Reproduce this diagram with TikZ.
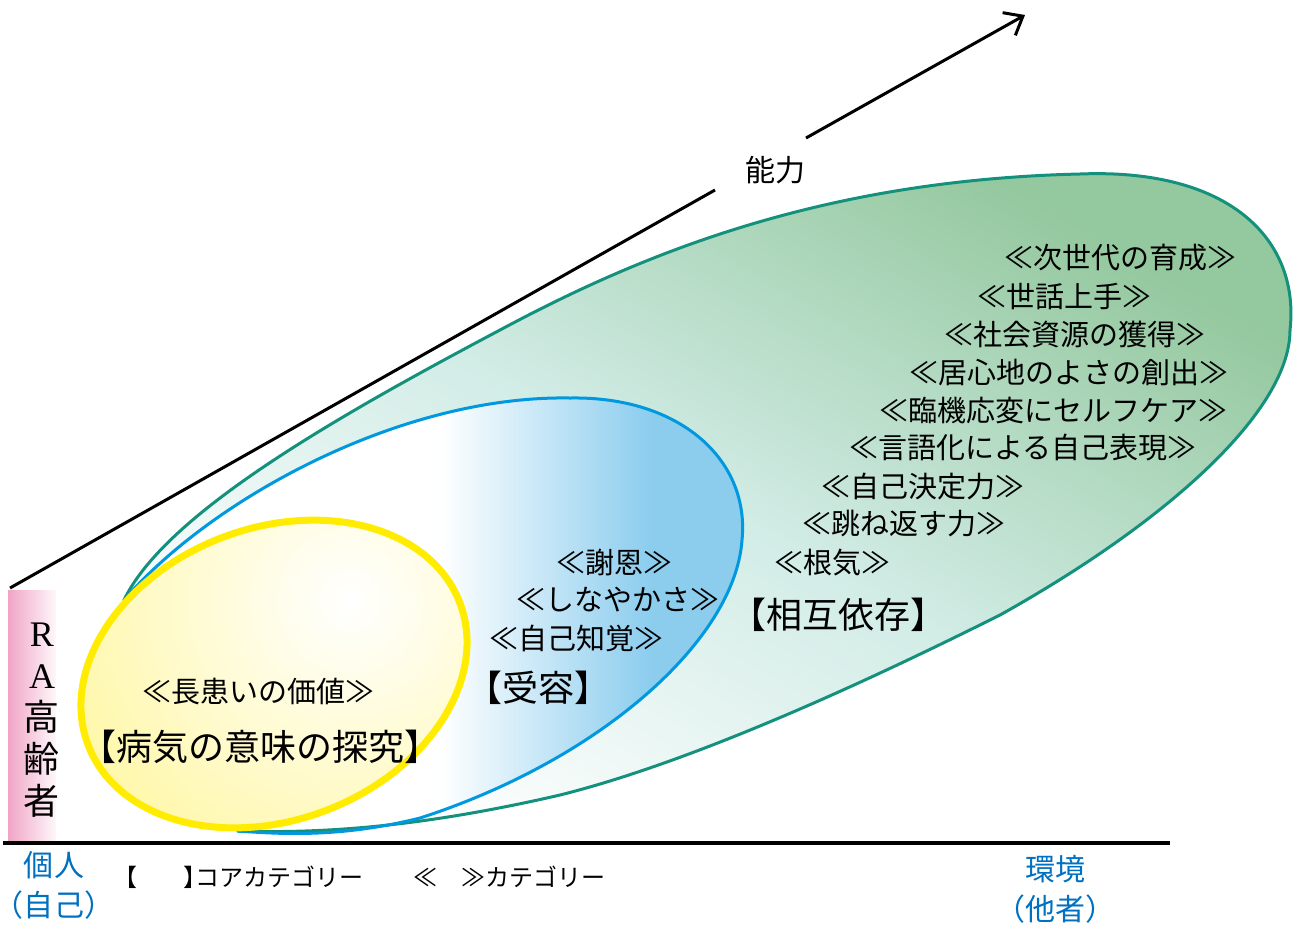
\documentclass[tikz,border=0pt]{standalone}
\usepackage{fontspec}
\newfontfamily\jp{Noto Sans CJK JP}
\newfontfamily\jphalt[RawFeature=+halt]{Noto Sans CJK JP}
\newfontfamily\lat{Liberation Serif}
\usetikzlibrary{arrows.meta}
\definecolor{yedge}{RGB}{255,236,0}
\definecolor{yfill}{RGB}{255,247,165}
\definecolor{bedge}{RGB}{0,152,222}
\definecolor{bfill}{RGB}{140,205,238}
\definecolor{gedge}{RGB}{20,145,125}
\definecolor{gfill}{RGB}{148,200,158}
\definecolor{gmid}{RGB}{210,236,230}
\definecolor{labblue}{RGB}{0,112,192}
\definecolor{rapink}{RGB}{240,165,198}
\newcommand\GreenShape{(124,600) .. controls (165,515) and (330,420) .. (500,330)
  .. controls (640,255) and (820,180) .. (1080,174)
  .. controls (1230,168) and (1300,240) .. (1290,330)
  .. controls (1290,410) and (1170,520) .. (1000,615)
  .. controls (880,675) and (700,760) .. (560,795)
  .. controls (430,825) and (330,834) .. (238,831)
  -- (260,700) -- cycle}
\newcommand\BlueShape{(124,600) .. controls (210,500) and (400,395) .. (570,398)
  .. controls (680,396) and (750,460) .. (742,540)
  .. controls (735,640) and (600,760) .. (420,818)
  .. controls (340,838) and (280,834) .. (238,831)
  -- (260,700) -- cycle}
\newcommand\YellowShape{(274,674) ellipse [x radius=199, y radius=146, rotate=21]}
\begin{document}
\begin{tikzpicture}[x=0.5pt,y=-0.5pt,
  cat/.style={font=\jp\fontsize{14.5}{16}\selectfont, anchor=west, inner sep=0pt},
  core/.style={font=\jp\fontsize{18}{20}\selectfont, inner sep=0pt},
  endlab/.style={font=\jphalt\fontsize{15}{20}\selectfont, text=labblue, align=center, inner sep=0pt},
  legend/.style={font=\jphalt\fontsize{12}{14}\selectfont, anchor=west, inner sep=0pt},
  axisline/.style={line width=1.5pt, black},
  edgeline/.style={line width=1.5pt, line join=round}]
\useasboundingbox (0,0) rectangle (1299,927);
% pink bar
\shade[left color=rapink, right color=rapink!8!white] (8,590) rectangle (56,840);
% green region
\shade[top color=gfill, bottom color=white, middle color=gmid, shading angle=-30] \GreenShape;
% blue region
\begin{scope}
  \clip \BlueShape;
  \fill[white] (100,380) rectangle (780,850);
  \shade[left color=white, right color=bfill] (440,380) rectangle (650,850);
  \fill[bfill] (650,380) rectangle (780,850);
\end{scope}
\draw[edgeline, gedge] \GreenShape;
\draw[edgeline, bedge] \BlueShape;
% yellow region
\begin{scope}
  \clip \YellowShape;
  \fill[yfill] (60,500) rectangle (500,850);
  \shade[inner color=white, outer color=yfill] (350,600) circle (320);
\end{scope}
\draw[line width=3.5pt, yedge] \YellowShape;
% axes
\coordinate (o) at (10,588);
\coordinate (gapA) at (715,190);
\coordinate (gapB) at (806,138);
\coordinate (tip) at (1025,15);
\coordinate (b0) at (3,843);
\coordinate (b1) at (1170,843);
\draw[axisline] (o) -- (gapA);
\draw[axisline, -{Straight Barb[length=8pt, width=13pt]}] (gapB) -- (tip);
\draw[line width=1.7pt, black] (b0) -- (b1);
\node[font=\jp\fontsize{15}{18}\selectfont] (noryoku) at (775,170) {能力};
% left label
\node[font=\fontsize{18}{21}\selectfont, align=center, inner sep=0pt] (ra) at (42,720) {{\lat R}\\{\lat A}\\{\jp 高}\\{\jp 齢}\\{\jp 者}};
% yellow texts
\node[cat] (c1) at (142,692) {≪長患いの価値≫};
\node[core] (k1) at (260,747) {【病気の意味の探究】};
% blue texts
\node[cat] (c2) at (556,562) {≪謝恩≫};
\node[cat] (c3) at (516,600) {≪しなやかさ≫};
\node[cat] (c4) at (489,638) {≪自己知覚≫};
\node[core] (k2) at (538,688) {【受容】};
% green texts
\node[cat] (c5) at (1004,258) {≪次世代の育成≫};
\node[cat] (c6) at (977,296) {≪世話上手≫};
\node[cat] (c7) at (944,334) {≪社会資源の獲得≫};
\node[cat] (c8) at (909,372) {≪居心地のよさの創出≫};
\node[cat] (c9) at (879,410) {≪臨機応変にセルフケア≫};
\node[cat] (c10) at (849,448) {≪言語化による自己表現≫};
\node[cat] (c11) at (821,487) {≪自己決定力≫};
\node[cat] (c12) at (802,524) {≪跳ね返す力≫};
\node[cat] (c13) at (774,563) {≪根気≫};
\node[core] (k3) at (838,615) {【相互依存】};
% bottom labels
\node[endlab] (kojin) at (54,885) {個人\\（自己）};
\node[endlab] (kankyo) at (1055,889) {環境\\（他者）};
\node[legend] (legcore) at (125,877) {【\hspace{1.92em}】コアカテゴリー};
\node[legend] (legcat) at (413,877) {≪\hspace{1em}≫カテゴリー};
\end{tikzpicture}
\end{document}
